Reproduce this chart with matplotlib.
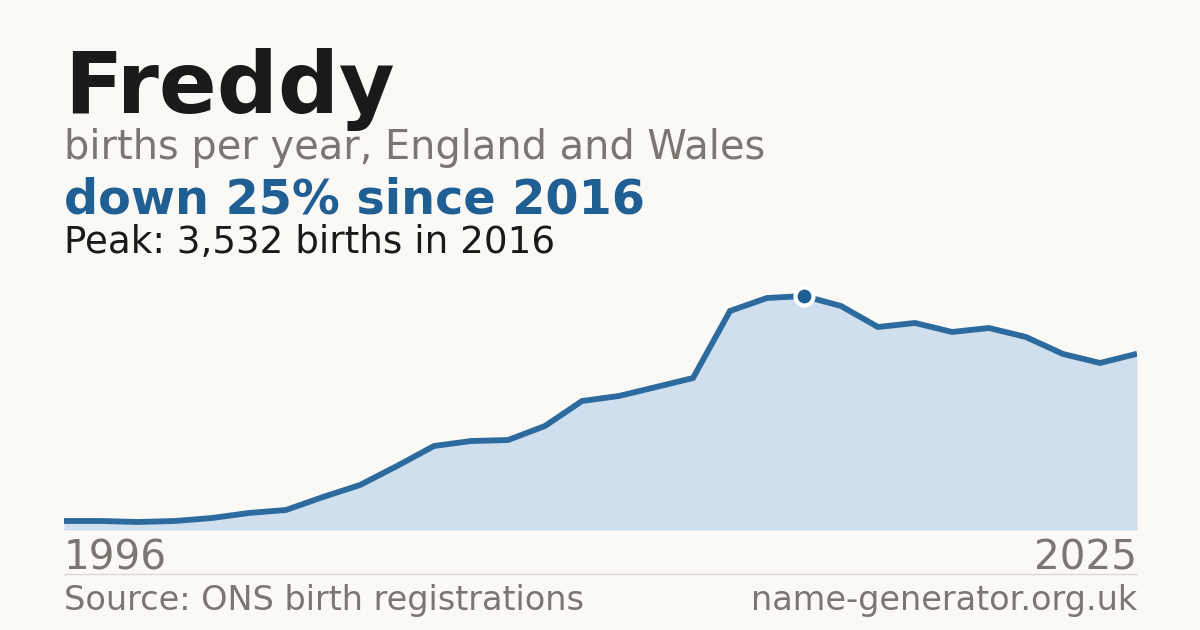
import matplotlib.pyplot as plt

years = list(range(1996, 2026))
births = [136, 136, 121, 136, 181, 257, 302, 498, 679, 966,
          1268, 1343, 1358, 1570, 1947, 2023, 2158, 2294, 3306, 3502,
          3532, 3381, 3064, 3125, 2989, 3049, 2913, 2657, 2521, 2660]

peak_year = 2016
peak_value = 3532

bg = '#faf9f5'
blue = '#1f5f94'
grey = '#7a7670'

fig = plt.figure(figsize=(12, 6.3), dpi=100, facecolor=bg)

# plot area: x 64..1137 px, baseline at y=530, top at y=280
ax = fig.add_axes([64 / 1200, 1 - 530 / 630, (1137 - 64) / 1200, 250 / 630])
ax.set_facecolor(bg)
ax.fill_between(years, births, 0, color='#cfdfee', linewidth=0)
ax.plot(years, births, color='#2d6b9f', linewidth=4.2, solid_joinstyle='miter', solid_capstyle='butt')
ax.plot([peak_year], [peak_value], marker='o', markersize=13, color=blue,
        markeredgecolor='white', markeredgewidth=3, clip_on=False, zorder=5)
ax.axhline(0, color='#dddad3', linewidth=1.5, zorder=0)
ax.set_xlim(1996, 2025)
ax.set_ylim(0, 250 / 0.06625)
ax.axis('off')

def px(x, y):
    return x / 1200, 1 - y / 630

fig.text(*px(64, 113), 'Freddy', fontsize=61.5, fontweight='bold', color='#1a1a1a', va='baseline')
fig.text(*px(64, 159), 'births per year, England and Wales', fontsize=28.7, color=grey, va='baseline')
fig.text(*px(64, 214), 'down 25% since 2016', fontsize=34.4, fontweight='bold', color=blue, va='baseline')
fig.text(*px(64, 253), 'Peak: 3,532 births in 2016', fontsize=26.8, color='#1a1a1a', va='baseline')

fig.text(*px(64, 569), str(years[0]), fontsize=29.2, color=grey, va='baseline')
fig.text(*px(1137, 569), str(years[-1]), fontsize=29.2, color=grey, va='baseline', ha='right')

fig.add_artist(plt.Line2D([64 / 1200, 1137 / 1200], [1 - 574 / 630] * 2, color='#dddad3', linewidth=1))

fig.text(*px(64, 610), 'Source: ONS birth registrations', fontsize=24.1, color=grey, va='baseline')
fig.text(*px(1137, 610), 'name-generator.org.uk', fontsize=24.1, color=grey, va='baseline', ha='right')

fig.savefig('out.png', dpi=100, facecolor=bg)
